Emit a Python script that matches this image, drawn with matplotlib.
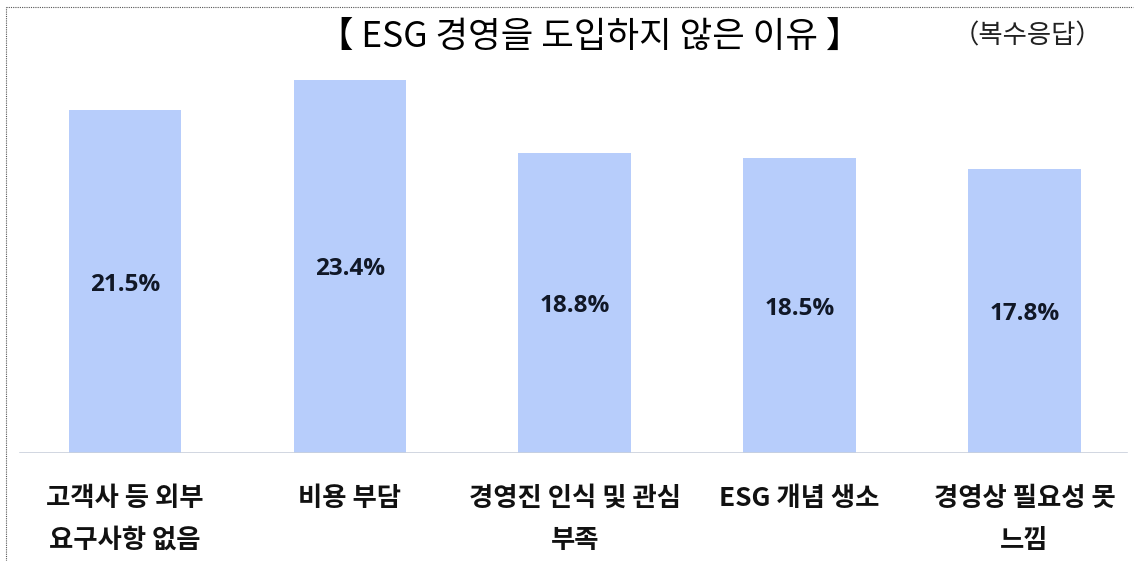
import matplotlib.pyplot as plt
from matplotlib.lines import Line2D

# data
categories = ["고객사 등 외부\n요구사항 없음", "비용 부담", "경영진 인식 및 관심\n부족",
              "ESG 개념 생소", "경영상 필요성 못\n느낌"]
values = [21.5, 23.4, 18.8, 18.5, 17.8]

plt.rcParams['font.family'] = ['Noto Sans CJK KR', 'DejaVu Sans']

fig = plt.figure(figsize=(11.38, 5.61), dpi=100)
ax = fig.add_axes([0.011, 0.1925, 0.988, 0.7112])

x = range(len(values))
bars = ax.bar(x, values, width=0.5, color="#b7cdfb", zorder=2)

for b, v in zip(bars, values):
    ax.text(b.get_x() + b.get_width() / 2, v / 2 - 0.2, f"{v}%", ha="center", va="center",
            fontsize=17.5, fontweight="bold", color="#111827",
            family=["Open Sans", "DejaVu Sans"])

ax.set_xlim(-0.5, 4.5)
ax.set_ylim(0, 25)
ax.axhline(0, xmin=0.007, xmax=0.991, color="#c9d0dc", lw=1.2, zorder=3)

ax.set_xticks(list(x))
ax.set_xticklabels(categories, fontsize=19, fontweight="bold", linespacing=1.72,
                   color="#111111")
ax.tick_params(axis="x", length=0, pad=23)
ax.set_yticks([])
for s in ax.spines.values():
    s.set_visible(False)

# title
fig.text(0.518, 0.935, "【 ESG 경영을 도입하지 않은 이유 】", ha="center", va="center",
         fontsize=25.5, color="black")
fig.text(0.9025, 0.935, "（복수응답）", ha="center", va="center", fontsize=19,
         color="#222222")

# dotted frame (left and top)
fig.add_artist(Line2D([0.0055, 0.0055], [0.0, 0.9875], transform=fig.transFigure,
                      ls=(0, (1, 1)), lw=0.8, color="#555555"))
fig.add_artist(Line2D([0.0055, 0.996], [0.9875, 0.9875], transform=fig.transFigure,
                      ls=(0, (1, 1)), lw=0.8, color="#555555"))

fig.savefig("out.png", dpi=100)
